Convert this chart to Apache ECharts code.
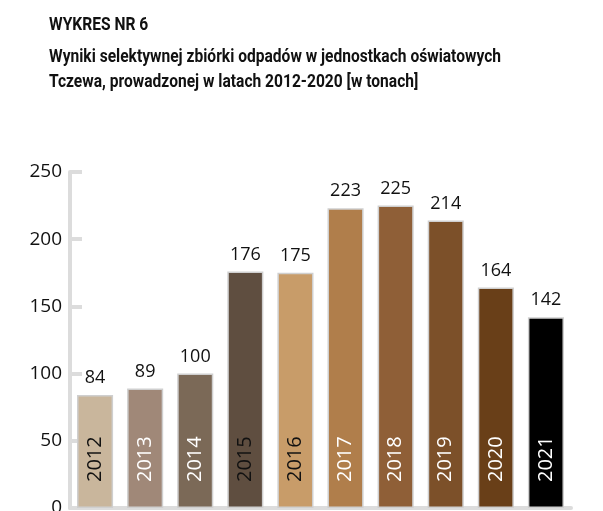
<!DOCTYPE html>
<html>
<head>
<meta charset="utf-8">
<script src="https://cdn.jsdelivr.net/npm/echarts@6/dist/echarts.min.js"></script>
<style>
  html, body { margin: 0; padding: 0; background: #fff; }
  #chart { width: 603px; height: 511px; }
</style>
</head>
<body>
<div id="chart"></div>
<script>
// lata i wartości (w tonach)
const years = ['2012', '2013', '2014', '2015', '2016', '2017', '2018', '2019', '2020', '2021'];
const values = [84, 89, 100, 176, 175, 223, 225, 214, 164, 142];
const barColors = ['#c9b69c', '#a08878', '#7b6957', '#5f4e40', '#c89c69', '#b07e4b', '#8f5f37', '#7c5029', '#693f18', '#000000'];
const yearTextColors = ['#111', '#fff', '#fff', '#111', '#111', '#fff', '#fff', '#fff', '#fff', '#fff'];
const yTicks = [0, 50, 100, 150, 200, 250];
const titleLines = [
  'WYKRES NR 6',
  'Wyniki selektywnej zbiórki odpadów w jednostkach oświatowych',
  'Tczewa, prowadzonej w latach 2012-2020 [w tonach]'
];

const chart = echarts.init(document.getElementById('chart'));

// font tytułu jest wąski (condensed) - ściskamy Roboto w poziomie
const titleFont = 'bold 19px Roboto';
const ctx = document.createElement('canvas').getContext('2d');
ctx.font = titleFont;
const titleScale = 452 / ctx.measureText(titleLines[1]).width;
const titleY = [25.5, 57, 82];

const barData = values.map((v, i) => ({
  value: v,
  itemStyle: { color: barColors[i] }
}));
const yearData = values.map((v, i) => ({
  value: v,
  label: { color: yearTextColors[i] }
}));

const option = {
  animation: false,
  graphic: titleLines.map((t, i) => ({
    type: 'text',
    x: 49,
    y: titleY[i],
    scaleX: titleScale,
    style: {
      text: t,
      font: titleFont,
      fill: '#111',
      textVerticalAlign: 'middle'
    }
  })),
  grid: { left: 70, right: 32, top: 172, bottom: 3, outerBoundsMode: 'none' },
  xAxis: {
    type: 'category',
    data: years,
    axisLabel: { show: false },
    axisTick: { show: false },
    axisLine: { lineStyle: { color: '#dcdcdc', width: 4 } }
  },
  yAxis: {
    type: 'value',
    min: yTicks[0],
    max: yTicks[yTicks.length - 1],
    interval: 50,
    splitLine: { show: false },
    axisLine: { show: true, lineStyle: { color: '#dcdcdc', width: 4 } },
    axisTick: { show: true, inside: true, length: 12, lineStyle: { color: '#dcdcdc', width: 4 } },
    axisLabel: { margin: 8, fontFamily: 'Open Sans', fontSize: 19, color: '#111' }
  },
  series: [
    {
      type: 'bar',
      data: barData,
      barWidth: '72%',
      itemStyle: { borderColor: '#cfcfcf', borderWidth: 1.5 },
      label: {
        show: true,
        position: 'top',
        distance: 8,
        fontFamily: 'Open Sans',
        fontSize: 18,
        color: '#111'
      }
    },
    {
      type: 'bar',
      data: yearData,
      barWidth: '72%',
      barGap: '-100%',
      itemStyle: { color: 'transparent' },
      silent: true,
      label: {
        show: true,
        position: 'insideBottom',
        distance: 26,
        rotate: 90,
        align: 'left',
        verticalAlign: 'middle',
        fontFamily: 'Open Sans',
        fontSize: 20,
        formatter: p => years[p.dataIndex]
      }
    }
  ]
};

chart.setOption(option);
window.addEventListener('resize', function () {
  chart.resize();
});
</script>
</body>
</html>
